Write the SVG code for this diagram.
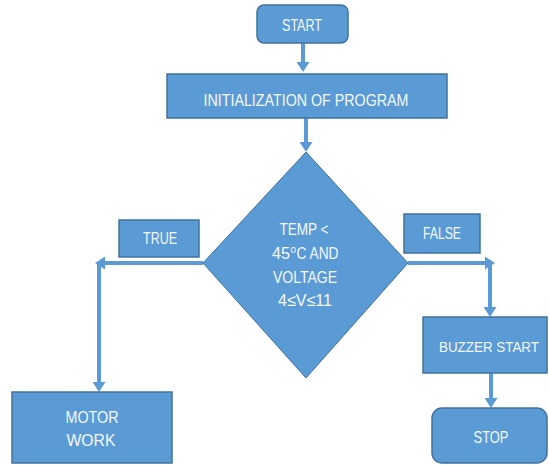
<svg xmlns="http://www.w3.org/2000/svg" width="549" height="465" viewBox="0 0 549 465">
<defs>
<style>
.box{fill:#5b9bd5;stroke:#41719c;stroke-width:1.5}
.lbl{fill:#5b9bd5;stroke:#41719c;stroke-width:1.5}
.t{font-family:"Liberation Sans",Arial,sans-serif;font-size:16.5px;fill:#f4f8fc;text-anchor:middle}
.s{text-anchor:start}
.c{fill:none;stroke:#5b9bd5;stroke-width:4}
</style>
<marker id="ah" markerUnits="userSpaceOnUse" markerWidth="10" markerHeight="13" viewBox="0 0 10 13" refX="1" refY="6.5" orient="auto">
<path d="M0,0 L10,6.5 L0,13 z" fill="#5b9bd5"/>
</marker>
</defs>
<rect width="549" height="465" fill="#ffffff"/>
<g id="connectors">
<path class="c" d="M303,43 V63" marker-end="url(#ah)"/>
<path class="c" d="M306,118 V143" marker-end="url(#ah)"/>
<path class="c" d="M203,263 H104" marker-end="url(#ah)"/>
<path class="c" d="M99,263 V383" marker-end="url(#ah)"/>
<path class="c" d="M408,263 H486" marker-end="url(#ah)"/>
<path class="c" d="M490,263 V308" marker-end="url(#ah)"/>
<path class="c" d="M491,373 V399" marker-end="url(#ah)"/>
</g>
<g id="start">
<rect class="box" x="257" y="5" width="91" height="38" rx="7"/>
<text class="t" x="302" y="31" textLength="40" lengthAdjust="spacingAndGlyphs">START</text>
</g>
<g id="init">
<rect class="box" x="167" y="74" width="280" height="44"/>
<text class="t" x="306" y="106" textLength="205" lengthAdjust="spacingAndGlyphs">INITIALIZATION OF PROGRAM</text>
</g>
<g id="decision">
<polygon class="box" points="306,152 408,263 306,378 203,263" style="stroke-width:1"/>
<text class="t" x="304" y="235" textLength="49" lengthAdjust="spacingAndGlyphs">TEMP &lt;</text>
<text class="t s" x="272" y="259" textLength="18" lengthAdjust="spacingAndGlyphs">45</text>
<text class="t s" x="290.5" y="253" style="font-size:10px">o</text>
<text class="t s" x="296.5" y="259" textLength="42" lengthAdjust="spacingAndGlyphs">C AND</text>
<text class="t" x="305" y="283" textLength="64" lengthAdjust="spacingAndGlyphs">VOLTAGE</text>
<text class="t" x="305" y="306" textLength="54" lengthAdjust="spacingAndGlyphs">4≤V≤11</text>
</g>
<g id="true-label">
<rect class="lbl" x="119" y="220" width="80" height="37"/>
<text class="t" x="160" y="244" textLength="34" lengthAdjust="spacingAndGlyphs">TRUE</text>
</g>
<g id="false-label">
<rect class="lbl" x="404" y="214" width="76" height="39"/>
<text class="t" x="442" y="239" textLength="38" lengthAdjust="spacingAndGlyphs">FALSE</text>
</g>
<g id="motor">
<rect class="box" x="12" y="392" width="160" height="71"/>
<text class="t" x="92" y="423" textLength="53" lengthAdjust="spacingAndGlyphs">MOTOR</text>
<text class="t" x="91" y="446" textLength="49" lengthAdjust="spacingAndGlyphs">WORK</text>
</g>
<g id="buzzer">
<rect class="box" x="423" y="317" width="124" height="56"/>
<text class="t" x="489" y="352" style="font-size:14.5px" textLength="100" lengthAdjust="spacingAndGlyphs">BUZZER START</text>
</g>
<g id="stop">
<rect class="box" x="432" y="408" width="115" height="55" rx="10"/>
<text class="t" x="491" y="443" textLength="35" lengthAdjust="spacingAndGlyphs">STOP</text>
</g>
</svg>
